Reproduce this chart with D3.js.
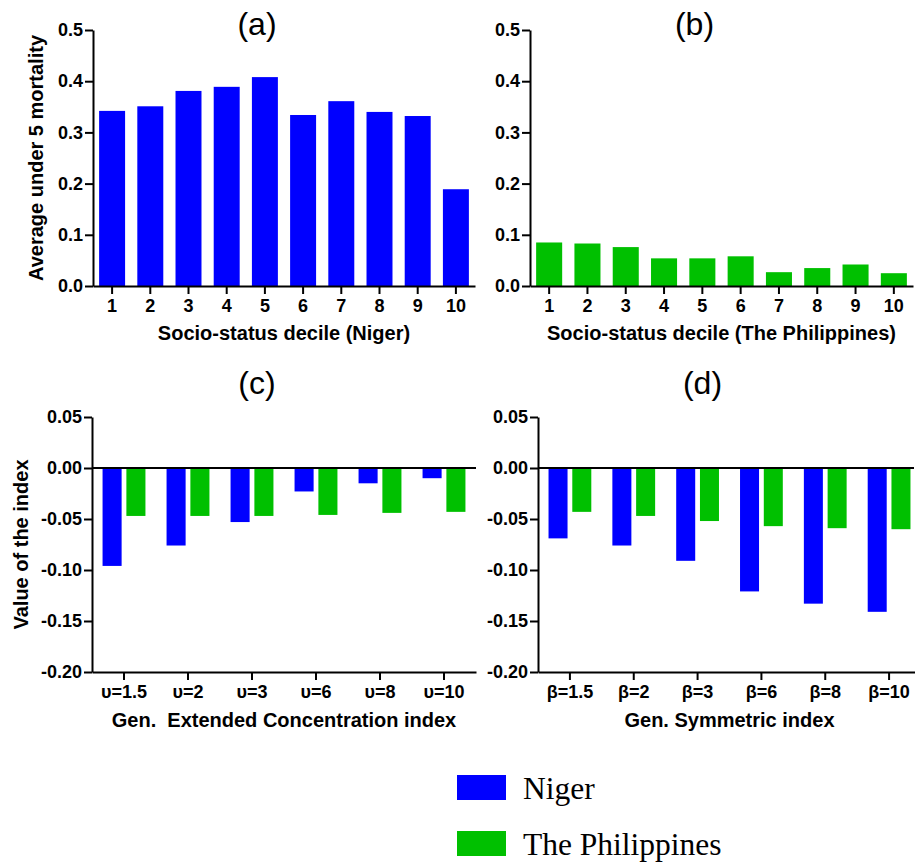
<!DOCTYPE html>
<html>
<head>
<meta charset="utf-8">
<script src="https://cdn.jsdelivr.net/npm/d3@7"></script>
<style>
  body { margin: 0; background: #fff; }
  svg { display: block; }
  .tick text { font-family: "Liberation Sans", Arial, sans-serif; font-weight: bold; font-size: 18px; fill: #000; }
  .axis-title { font-family: "Liberation Sans", Arial, sans-serif; font-weight: bold; font-size: 20px; }
  .panel-title { font-family: "Liberation Sans", Arial, sans-serif; font-size: 32px; }
  .legend-text { font-family: "Liberation Serif", "Times New Roman", serif; font-size: 31.5px; }
</style>
</head>
<body>
<div id="chart"></div>
<script>
const W = 915, H = 862;
const BLUE = "#0000ff", GREEN = "#00c000";

// data
const deciles = ["1", "2", "3", "4", "5", "6", "7", "8", "9", "10"];
const nigerMortality = [0.342, 0.351, 0.381, 0.389, 0.408, 0.334, 0.361, 0.340, 0.332, 0.189];
const philMortality = [0.085, 0.083, 0.076, 0.054, 0.054, 0.058, 0.027, 0.035, 0.042, 0.025];

const concLabels = ["υ=1.5", "υ=2", "υ=3", "υ=6", "υ=8", "υ=10"];
const concNiger = [-0.096, -0.076, -0.053, -0.023, -0.015, -0.010];
const concPhil = [-0.047, -0.047, -0.047, -0.046, -0.044, -0.043];

const symLabels = ["β=1.5", "β=2", "β=3", "β=6", "β=8", "β=10"];
const symNiger = [-0.069, -0.076, -0.091, -0.121, -0.133, -0.141];
const symPhil = [-0.043, -0.047, -0.052, -0.057, -0.059, -0.060];

const topTicks = [0, 0.1, 0.2, 0.3, 0.4, 0.5];
const bottomTicks = [0.05, 0, -0.05, -0.10, -0.15, -0.20];
const seriesNames = ["Niger", "The Philippines"];

const svg = d3.select("#chart").append("svg")
  .attr("width", W).attr("height", H);

function styleAxis(g) {
  g.selectAll(".domain").attr("stroke", "#000").attr("stroke-width", 2);
  g.selectAll(".tick line").attr("stroke", "#000").attr("stroke-width", 2);
}

// single series decile panel
function decilePanel(x0, x1, values, color, title, xTitle, yTitle) {
  const yTop = 30, yBot = 286;
  const x = d3.scaleBand().domain(deciles).range([x0, x1])
    .paddingInner(0.32).paddingOuter(0.16);
  const y = d3.scaleLinear().domain([0, 0.5]).range([yBot, yTop]);

  svg.append("g").selectAll("rect").data(values).enter().append("rect")
    .attr("x", (d, i) => x(deciles[i]))
    .attr("y", d => y(d))
    .attr("width", x.bandwidth())
    .attr("height", d => y(0) - y(d))
    .attr("fill", color);

  const ya = svg.append("g").attr("transform", `translate(${x0},0)`)
    .call(d3.axisLeft(y).tickValues(topTicks).tickSize(8).tickPadding(2)
      .tickFormat(d => d.toFixed(1)).tickSizeOuter(0));
  styleAxis(ya);
  const xa = svg.append("g").attr("transform", `translate(0,${yBot})`)
    .call(d3.axisBottom(x).tickSize(8).tickPadding(5).tickSizeOuter(0));
  styleAxis(xa);

  svg.append("text").attr("class", "panel-title")
    .attr("x", (x0 + x1) / 2 - 27).attr("y", 35)
    .attr("text-anchor", "middle").text(title);
  svg.append("text").attr("class", "axis-title")
    .attr("x", (x0 + x1) / 2).attr("y", 340)
    .attr("text-anchor", "middle").text(xTitle);
  if (yTitle) {
    svg.append("text").attr("class", "axis-title")
      .attr("transform", `translate(43,${(yTop + yBot) / 2}) rotate(-90)`)
      .attr("text-anchor", "middle").text(yTitle);
  }
}

// grouped index panel
function indexPanel(x0, x1, labels, niger, phil, title, xTitle, yTitle) {
  const yTop = 417, yBot = 672;
  const x = d3.scaleBand().domain(labels).range([x0, x1])
    .paddingInner(0.33).paddingOuter(0.165);
  const xs = d3.scaleBand().domain(seriesNames).range([0, x.bandwidth()])
    .paddingInner(0.2);
  const y = d3.scaleLinear().domain([-0.20, 0.05]).range([yBot, yTop]);

  const rows = labels.map((l, i) => ({ label: l, vals: [niger[i], phil[i]] }));
  const grp = svg.append("g").selectAll("g").data(rows).enter().append("g")
    .attr("transform", d => `translate(${x(d.label)},0)`);
  grp.selectAll("rect").data(d => d.vals.map((v, j) => ({ v, s: seriesNames[j] })))
    .enter().append("rect")
    .attr("x", d => xs(d.s))
    .attr("y", d => y(Math.max(0, d.v)))
    .attr("width", xs.bandwidth())
    .attr("height", d => Math.abs(y(d.v) - y(0)))
    .attr("fill", d => d.s === "Niger" ? BLUE : GREEN);

  const ya = svg.append("g").attr("transform", `translate(${x0},0)`)
    .call(d3.axisLeft(y).tickValues(bottomTicks).tickSize(8).tickPadding(2)
      .tickFormat(d => d.toFixed(2)).tickSizeOuter(0));
  styleAxis(ya);
  const xa = svg.append("g").attr("transform", `translate(0,${yBot})`)
    .call(d3.axisBottom(x).tickSize(8).tickPadding(5).tickSizeOuter(0));
  styleAxis(xa);

  // zero line
  svg.append("line")
    .attr("x1", x0).attr("x2", Math.min(x1, 914))
    .attr("y1", y(0)).attr("y2", y(0))
    .attr("stroke", "#000").attr("stroke-width", 2);

  svg.append("text").attr("class", "panel-title")
    .attr("x", (x0 + x1) / 2 - 27).attr("y", 394)
    .attr("text-anchor", "middle").text(title);
  svg.append("text").attr("class", "axis-title")
    .attr("x", (x0 + x1) / 2).attr("y", 727)
    .attr("text-anchor", "middle").style("white-space", "pre").text(xTitle);
  if (yTitle) {
    svg.append("text").attr("class", "axis-title")
      .attr("transform", `translate(28,${(yTop + yBot) / 2}) rotate(-90)`)
      .attr("text-anchor", "middle").text(yTitle);
  }
}

decilePanel(93, 475, nigerMortality, BLUE, "(a)", "Socio-status decile (Niger)", "Average under 5 mortality");
decilePanel(530, 913, philMortality, GREEN, "(b)", "Socio-status decile (The Philippines)", null);
indexPanel(92, 476, concLabels, concNiger, concPhil, "(c)", "Gen.  Extended Concentration index", "Value of the index");
indexPanel(538, 921, symLabels, symNiger, symPhil, "(d)", "Gen. Symmetric index", null);

// legend
const leg = svg.append("g").selectAll("g").data(seriesNames).enter().append("g")
  .attr("transform", (d, i) => `translate(457,${775 + i * 56})`);
leg.append("rect").attr("width", 49).attr("height", 25)
  .attr("fill", (d, i) => i === 0 ? BLUE : GREEN);
leg.append("text").attr("class", "legend-text")
  .attr("x", 66).attr("y", 24).text(d => d);
</script>
</body>
</html>
